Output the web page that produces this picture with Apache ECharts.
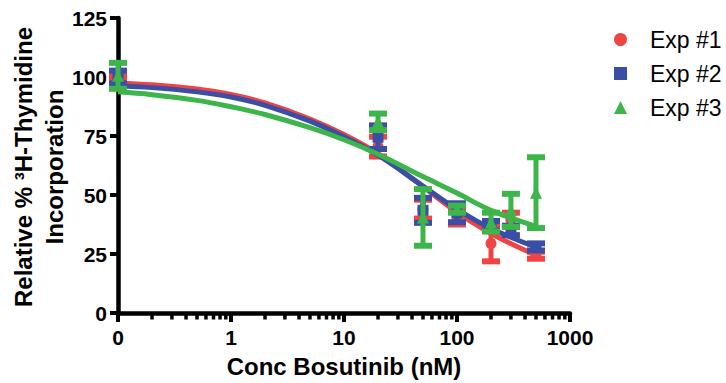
<!DOCTYPE html>
<html><head><meta charset="utf-8">
<script src="https://cdn.jsdelivr.net/npm/echarts@6/dist/echarts.min.js"></script>
<style>html,body{margin:0;padding:0;background:#fff}#c{width:726px;height:383px}</style>
</head><body><div id="c"></div>
<script>
// ---- data ----
const doses = [0, 20, 50, 100, 200, 300, 500];          // nM; 0 is drawn at the axis start
const exp1Mean = [100, 70.5, 44, 40.5, 29.5, 39.5, 24.5];
const exp1Err  = [1, 4.2, 4, 3, 7.6, 3, 1.5];
const exp2Mean = [100, 74.5, 43.5, 42.5, 37, 35, 28];
const exp2Err  = [2.7, 5, 5.3, 4, 2, 2, 1.5];
const exp3Mean = [100.5, 81, 40.5, 44, 38.5, 43.5, 51];
const exp3Err  = [5.5, 3.5, 12, 1.5, 4, 7, 15];

const fitDoses = [0.1, 0.2, 0.5, 1, 2, 5, 10, 20, 50, 100, 200, 500];
const exp1Fit = [97.5, 96.7, 94.9, 92.6, 89.0, 82.2, 75.6, 67.5, 53.5, 42.7, 33.7, 24.5];
const exp2Fit = [96.3, 95.5, 93.7, 91.5, 88.0, 81.3, 74.7, 66.9, 53.8, 44.0, 35.8, 27.9];
const exp3Fit = [93.7, 92.5, 90.1, 87.4, 84.1, 78.5, 73.4, 67.3, 57.8, 50.8, 43.5, 36.7];

const seriesNames = ['Exp #1', 'Exp #2', 'Exp #3'];
const xTickLabels = ['0', '1', '10', '100', '1000'];
const xMinorTicks = [0.2,0.3,0.4,0.5,0.6,0.7,0.8,0.9, 2,3,4,5,6,7,8,9, 20,30,40,50,60,70,80,90, 200,300,400,500,600,700,800,900];
const yTicks = [0, 25, 50, 75, 100, 125];

// ---- styling ----
const colors = ['#ef4444', '#3b4ea6', '#3cb54a'];
const symbols = ['circle', 'rect', 'triangle'];
const FONT = '"Liberation Sans", Arial, sans-serif';
const X_MIN = 0.1, X_MAX = 1000;
const plotX = d => (d === 0 ? X_MIN : d);

function errRender(color) {
  return function (params, api) {
    const x = api.value(0), m = api.value(1), e = api.value(2);
    const top = api.coord([x, m + e]), bot = api.coord([x, m - e]);
    const hw = 9;
    const st = { stroke: color, lineWidth: 5, fill: null };
    const cap = { stroke: color, lineWidth: 6, fill: null };
    return { type: 'group', children: [
      { type: 'line', shape: { x1: top[0], y1: top[1], x2: bot[0], y2: bot[1] }, style: st },
      { type: 'line', shape: { x1: top[0] - hw, y1: top[1], x2: top[0] + hw, y2: top[1] }, style: cap },
      { type: 'line', shape: { x1: bot[0] - hw, y1: bot[1], x2: bot[0] + hw, y2: bot[1] }, style: cap }
    ]};
  };
}

const means = [exp1Mean, exp2Mean, exp3Mean];
const errs = [exp1Err, exp2Err, exp3Err];
const fits = [exp1Fit, exp2Fit, exp3Fit];

const series = [];
// minor ticks on the log axis
series.push({
  type: 'custom', silent: true, clip: false, z: 5,
  data: xMinorTicks.map(v => [v, 0]),
  renderItem: function (params, api) {
    const p = api.coord([api.value(0), 0]);
    return { type: 'line', shape: { x1: p[0], y1: p[1], x2: p[0], y2: p[1] + 6.5 },
      style: { stroke: '#000', lineWidth: 3.5 } };
  }
});
for (let i = 0; i < 3; i++) {
  series.push({
    type: 'line', name: seriesNames[i] + ' fit', smooth: 0.4, showSymbol: false, silent: true,
    data: fitDoses.map((d, k) => [d, fits[i][k]]),
    lineStyle: { color: colors[i], width: 5 }, z: 2 + i
  });
}
for (let i = 0; i < 3; i++) {
  series.push({
    type: 'custom', name: seriesNames[i] + ' err', silent: true, clip: false, z: 3 + i,
    data: doses.map((d, k) => [plotX(d), means[i][k], errs[i][k]]),
    encode: { x: 0, y: 1 },
    renderItem: errRender(colors[i])
  });
  series.push({
    type: 'scatter', name: seriesNames[i], symbol: symbols[i], symbolSize: i === 2 ? 12 : 11,
    data: doses.map((d, k) => [plotX(d), means[i][k]]),
    itemStyle: { color: colors[i], opacity: 1 }, z: 3 + i
  });
}

const chart = echarts.init(document.getElementById('c'), null, { renderer: 'svg' });
chart.setOption({
  animation: false,
  backgroundColor: '#fff',
  grid: { left: 118, right: 156, top: 18, bottom: 69, containLabel: false },
  xAxis: {
    type: 'log', logBase: 10, min: X_MIN, max: X_MAX,
    axisLine: { onZero: false, lineStyle: { color: '#000', width: 4.5 } },
    axisTick: { show: true, length: 9, lineStyle: { color: '#000', width: 4 } },
    splitLine: { show: false },
    axisLabel: {
      color: '#000', fontFamily: FONT, fontWeight: 'bold', fontSize: 21, margin: 14,
      formatter: function (v) {
        const idx = Math.round(Math.log10(v) - Math.log10(X_MIN));
        return xTickLabels[idx] !== undefined ? xTickLabels[idx] : '';
      }
    },
    name: 'Conc Bosutinib (nM)', nameLocation: 'middle', nameGap: 41,
    nameTextStyle: { color: '#000', fontFamily: FONT, fontWeight: 'bold', fontSize: 24 }
  },
  yAxis: {
    type: 'value', min: yTicks[0], max: yTicks[yTicks.length - 1], interval: 25,
    axisLine: { show: true, lineStyle: { color: '#000', width: 4.5 } },
    axisTick: { show: true, length: 8, lineStyle: { color: '#000', width: 4 } },
    splitLine: { show: false },
    axisLabel: { color: '#000', fontFamily: FONT, fontWeight: 'bold', fontSize: 21, margin: 11 }
  },
  legend: {
    data: seriesNames.map((n, i) => ({ name: n, icon: symbols[i] })),
    orient: 'vertical', left: 609, top: 23, itemWidth: 13, itemHeight: 13, itemGap: 11,
    textStyle: { color: '#000', fontFamily: FONT, fontSize: 23, padding: [0, 0, 0, 18] },
    selectedMode: false
  },
  graphic: [
    { type: 'text', x: 23, y: 167, rotation: Math.PI / 2,
      style: { text: 'Relative % \u00B3H-Thymidine', fill: '#000', font: 'bold 24px ' + FONT,
        textAlign: 'center', textVerticalAlign: 'middle' } },
    { type: 'text', x: 54, y: 167, rotation: Math.PI / 2,
      style: { text: 'Incorporation', fill: '#000', font: 'bold 24px ' + FONT,
        textAlign: 'center', textVerticalAlign: 'middle' } }
  ],
  series: series
});
</script>
</body></html>
